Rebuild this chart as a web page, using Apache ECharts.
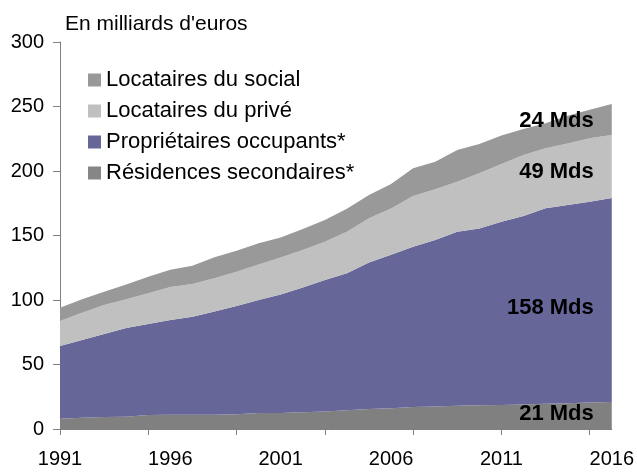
<!DOCTYPE html>
<html>
<head>
<meta charset="utf-8">
<script src="https://cdn.jsdelivr.net/npm/echarts@6/dist/echarts.min.js"></script>
<style>
  html, body { margin: 0; padding: 0; background: #ffffff; }
  #chart { width: 637px; height: 472px; }
</style>
</head>
<body>
<div id="chart"></div>
<script>
// Years on the horizontal axis
const years = ['1991','1992','1993','1994','1995','1996','1997','1998','1999','2000',
  '2001','2002','2003','2004','2005','2006','2007','2008','2009','2010',
  '2011','2012','2013','2014','2015','2016'];

// Amounts in billions of euros, by occupancy status
const locatairesSocial = [8, 8.7, 9.3, 9.5, 10.8, 11, 11, 11, 11.5, 12.5,
  12.5, 13, 13.5, 14.5, 15.5, 16, 17, 17.5, 18, 18.5,
  18.6, 19, 19.5, 20, 20.5, 21];
const proprietairesOccupants = [56.3, 60.3, 64.3, 68.8, 70.6, 73.5, 76.1, 80, 83.8, 87.5,
  91.7, 96.7, 102, 106.2, 113.5, 119, 124.3, 129, 134.9, 137,
  142.1, 146.1, 151.6, 153.6, 155.7, 158];
const locatairesPrive = [19.4, 21.2, 22.5, 22.2, 23.8, 25.5, 25.3, 25.8, 26.6, 27.6,
  28.8, 29.1, 29.7, 32.2, 34.3, 36, 39.3, 39.3, 38.8, 42.7,
  44.8, 47.3, 46.5, 47.8, 49.1, 49];
const residencesSecondaires = [10.3, 10.3, 10.3, 11.6, 12.8, 13.5, 14.2, 16.3, 16.3, 16.3,
  15.5, 16.2, 16.8, 17.8, 18.1, 19, 21.5, 21.4, 24.6, 22.7,
  22.1, 20.1, 19.5, 21.4, 22.1, 24];

const yTicks = [0, 50, 100, 150, 200, 250, 300];

const names = {
  social: 'Locataires du social',
  prive: 'Locataires du privé',
  proprio: 'Propriétaires occupants*',
  second: 'Résidences secondaires*'
};

const FONT = '"Liberation Sans", Arial, sans-serif';
const last = years.length - 1;

// Label placed in the middle of each layer at the last year
function endLabel(values, below, offsetY) {
  const v = values[last];
  return {
    symbol: 'circle',
    symbolSize: 0,
    silent: true,
    data: [{ coord: [years[last], below + v / 2], value: v }],
    label: {
      show: true,
      position: 'left',
      distance: 18,
      offset: [0, offsetY],
      formatter: '{c} Mds',
      color: '#000',
      fontFamily: FONT,
      fontWeight: 'bold',
      fontSize: 22
    }
  };
}

function areaSeries(name, values, color, markPoint) {
  return {
    name: name,
    type: 'line',
    stack: 'total',
    data: values,
    symbol: 'none',
    showSymbol: false,
    lineStyle: { width: 0 },
    itemStyle: { color: color },
    areaStyle: { color: color, opacity: 1 },
    emphasis: { disabled: true },
    markPoint: markPoint
  };
}

const baseProprio = locatairesSocial[last];
const basePrive = baseProprio + proprietairesOccupants[last];
const baseSecond = basePrive + locatairesPrive[last];

const option = {
  animation: false,
  backgroundColor: '#ffffff',
  title: {
    text: "En milliards d'euros",
    left: 60,
    top: 9,
    textStyle: { fontFamily: FONT, fontSize: 21, fontWeight: 'normal', color: '#000' }
  },
  legend: {
    orient: 'vertical',
    left: 83,
    top: 64,
    itemWidth: 13,
    itemHeight: 13,
    itemGap: 9,
    icon: 'rect',
    textStyle: { fontFamily: FONT, fontSize: 22, color: '#000', lineHeight: 22 },
    data: [
      { name: names.social, itemStyle: { color: '#999999' } },
      { name: names.prive, itemStyle: { color: '#c0c0c0' } },
      { name: names.proprio, itemStyle: { color: '#666699' } },
      { name: names.second, itemStyle: { color: '#868686' } }
    ]
  },
  grid: { left: 60, right: 25, top: 42, bottom: 43 },
  xAxis: {
    type: 'category',
    data: years,
    boundaryGap: false,
    axisLine: { lineStyle: { color: '#808080', width: 1 } },
    axisTick: {
      show: true,
      length: 6,
      interval: function (idx) { return idx % 4 === 0; },
      lineStyle: { color: '#808080' }
    },
    axisLabel: {
      interval: function (idx) { return idx % 5 === 0; },
      margin: 20,
      color: '#000',
      fontFamily: FONT,
      fontSize: 20
    },
    splitLine: { show: false }
  },
  yAxis: {
    type: 'value',
    min: yTicks[0],
    max: yTicks[yTicks.length - 1],
    interval: 50,
    axisLine: { show: true, lineStyle: { color: '#808080', width: 1 } },
    axisTick: { show: true, length: 7, lineStyle: { color: '#808080' } },
    axisLabel: { margin: 16, color: '#000', fontFamily: FONT, fontSize: 20 },
    splitLine: { show: false }
  },
  series: [
    areaSeries(names.social, locatairesSocial, '#808080', endLabel(locatairesSocial, 0, -2)),
    areaSeries(names.proprio, proprietairesOccupants, '#666699', endLabel(proprietairesOccupants, baseProprio, 8)),
    areaSeries(names.prive, locatairesPrive, '#c0c0c0', endLabel(locatairesPrive, basePrive, 5)),
    areaSeries(names.second, residencesSecondaires, '#999999', endLabel(residencesSecondaires, baseSecond, 2))
  ]
};

const chart = echarts.init(document.getElementById('chart'), null, { renderer: 'canvas' });
chart.setOption(option);
</script>
</body>
</html>
